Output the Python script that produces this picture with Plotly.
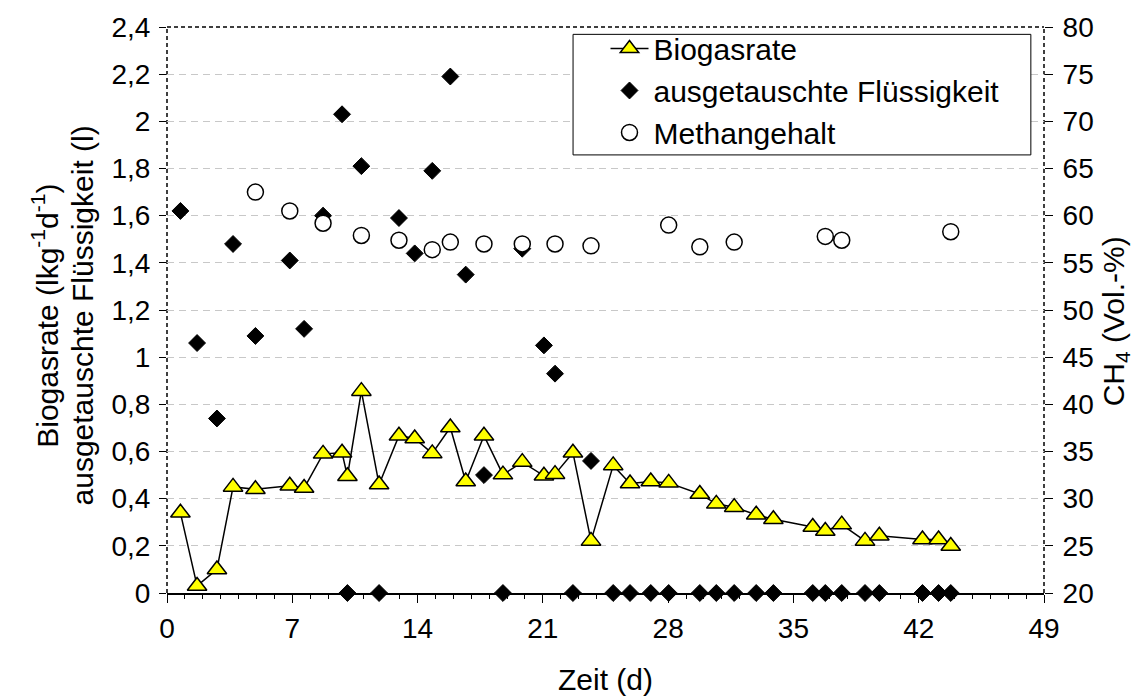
import plotly.graph_objects as go

# ---- data ----
days = [0.75, 1.68, 2.79, 3.69, 4.94, 6.86, 7.66, 8.72, 9.78, 10.08, 10.86, 11.85,
        12.96, 13.84, 14.82, 15.83, 16.69, 17.71, 18.77, 19.85, 21.06, 21.68, 22.68,
        23.69, 24.93, 25.87, 27.03, 28.03, 29.77, 30.69, 31.69, 32.92, 33.88, 36.08,
        36.78, 37.70, 39.0, 39.80, 42.21, 43.11, 43.79]

biogasrate = [0.34, 0.03, 0.10, 0.45, 0.44, 0.455, 0.445, 0.59, 0.595, 0.495, 0.856, 0.46,
              0.667, 0.655, 0.592, 0.702, 0.473, 0.667, 0.502, 0.555, 0.497, 0.504, 0.595,
              0.221, 0.541, 0.464, 0.473, 0.467, 0.42, 0.378, 0.364, 0.332, 0.313, 0.28,
              0.263, 0.29, 0.221, 0.243, 0.227, 0.227, 0.199]

fluessigkeit = [1.62, 1.06, 0.74, 1.48, 1.09, 1.41, 1.12, 1.60, 2.03, 0.0, 1.81, 0.0,
                1.59, 1.44, 1.79, 2.19, 1.35, 0.50, 0.0, 1.46, 1.05, 0.93, 0.0,
                0.56, 0.0, 0.0, 0.0, 0.0, 0.0, 0.0, 0.0, 0.0, 0.0, 0.0,
                0.0, 0.0, 0.0, 0.0, 0.0, 0.0, 0.0]

methan_days = [4.94, 6.86, 8.72, 10.86, 12.96, 14.82, 15.83, 17.71, 19.85, 21.68, 23.69,
               28.03, 29.77, 31.69, 36.78, 37.70, 43.79]
methangehalt = [62.5, 60.5, 59.2, 57.9, 57.4, 56.4, 57.2, 57.0, 57.0, 57.0, 56.8,
                59.0, 56.7, 57.2, 57.8, 57.4, 58.3]

x_ticks = [0, 7, 14, 21, 28, 35, 42, 49]
y_ticks = [0, 0.2, 0.4, 0.6, 0.8, 1.0, 1.2, 1.4, 1.6, 1.8, 2.0, 2.2, 2.4]
y_ticktext = ["0", "0,2", "0,4", "0,6", "0,8", "1", "1,2", "1,4", "1,6", "1,8", "2", "2,2", "2,4"]
y2_ticks = [20, 25, 30, 35, 40, 45, 50, 55, 60, 65, 70, 75, 80]

FONT = "Liberation Sans, Arial, sans-serif"
TICK = 28
TITLE = 30
LEG = 30

fig = go.Figure()

fig.add_trace(go.Scatter(
    x=days, y=biogasrate, name="Biogasrate", mode="lines+markers",
    line=dict(color="black", width=1.5),
    marker=dict(symbol="triangle-up", size=17, color="#FFFF00",
                line=dict(color="black", width=1.5)),
    yaxis="y"))

fig.add_trace(go.Scatter(
    x=days, y=fluessigkeit, name="ausgetauschte Flüssigkeit", mode="markers",
    marker=dict(symbol="diamond", size=13, color="black",
                line=dict(color="black", width=1)),
    yaxis="y", cliponaxis=False))

fig.add_trace(go.Scatter(
    x=methan_days, y=methangehalt, name="Methangehalt", mode="markers",
    marker=dict(symbol="circle", size=16, color="white",
                line=dict(color="black", width=1.5)),
    yaxis="y2"))

fig.update_layout(
    width=1143, height=697,
    margin=dict(l=167, r=99, t=22, b=104),
    paper_bgcolor="white", plot_bgcolor="white",
    font=dict(family=FONT, size=TICK, color="black"),
    showlegend=True,
    legend=dict(x=0.5, y=1.008, xanchor="left", yanchor="top",
                bgcolor="rgba(0,0,0,0)", borderwidth=0,
                font=dict(size=LEG, family=FONT, color="black"),
                itemwidth=38, tracegroupgap=0),
    xaxis=dict(range=[0, 49], tickvals=x_ticks, ticks="outside", ticklen=8,
               tickwidth=1, tickcolor="black", showgrid=False, zeroline=False,
               showline=True, linecolor="black", linewidth=1.5,
               minor=dict(dtick=1, tick0=0, ticks="outside", ticklen=4,
                          tickcolor="black", tickwidth=1, showgrid=False),
               tickfont=dict(size=TICK), ticklabelstandoff=2),
    yaxis=dict(range=[0, 2.4], tickvals=y_ticks, ticktext=y_ticktext,
               ticks="outside", ticklen=7, tickcolor="black", tickwidth=1,
               showgrid=True, gridcolor="#c8c8c8", griddash="7px,5px", gridwidth=1,
               zeroline=False, showline=False, tickfont=dict(size=TICK),
               ticklabelstandoff=3),
    yaxis2=dict(range=[20, 80], tickvals=y2_ticks, overlaying="y", side="right",
                ticks="outside", ticklen=8, tickcolor="black", tickwidth=1,
                showgrid=False, zeroline=False, showline=False,
                tickfont=dict(size=TICK), ticklabelstandoff=4),
    yaxis3=dict(range=[20, 80], tickvals=y2_ticks, overlaying="y", side="right",
                ticks="inside", ticklen=8, tickcolor="black", tickwidth=1,
                showticklabels=False, showgrid=False, zeroline=False, showline=False),
    shapes=[
        dict(type="line", xref="paper", yref="paper", x0=0, x1=1, y0=1, y1=1,
             line=dict(color="black", width=1.5, dash="4px,3px"), layer="above"),
        dict(type="line", xref="paper", yref="paper", x0=0, x1=0, y0=0, y1=1,
             line=dict(color="black", width=1.5, dash="4px,3px"), layer="below"),
        dict(type="line", xref="paper", yref="paper", x0=1, x1=1, y0=0, y1=1,
             line=dict(color="black", width=1.5, dash="4px,3px"), layer="below"),
        # legend frame
        dict(type="rect", xref="paper", yref="paper", x0=0.463, x1=0.985,
             y0=0.774, y1=0.987, fillcolor="white",
             line=dict(color="black", width=1), layer="above"),
    ],
    annotations=[
        dict(text="Biogasrate (lkg<sup>-1</sup>d<sup>-1</sup>)", xref="paper", yref="paper",
             x=-0.139, y=0.49, xanchor="center", yanchor="middle", textangle=-90,
             showarrow=False, font=dict(size=TITLE)),
        dict(text="ausgetauschte Flüssigkeit (l)", xref="paper", yref="paper",
             x=-0.096, y=0.49, xanchor="center", yanchor="middle", textangle=-90,
             showarrow=False, font=dict(size=TITLE)),
        dict(text="CH<sub>4</sub> (Vol.-%)", xref="paper", yref="paper",
             x=1.081, y=0.48, xanchor="center", yanchor="middle", textangle=-90,
             showarrow=False, font=dict(size=TITLE)),
        dict(text="Zeit (d)", xref="paper", yref="paper",
             x=0.5, y=-0.152, xanchor="center", yanchor="middle",
             showarrow=False, font=dict(size=TITLE)),
    ],
)

fig.write_html("out.html")
